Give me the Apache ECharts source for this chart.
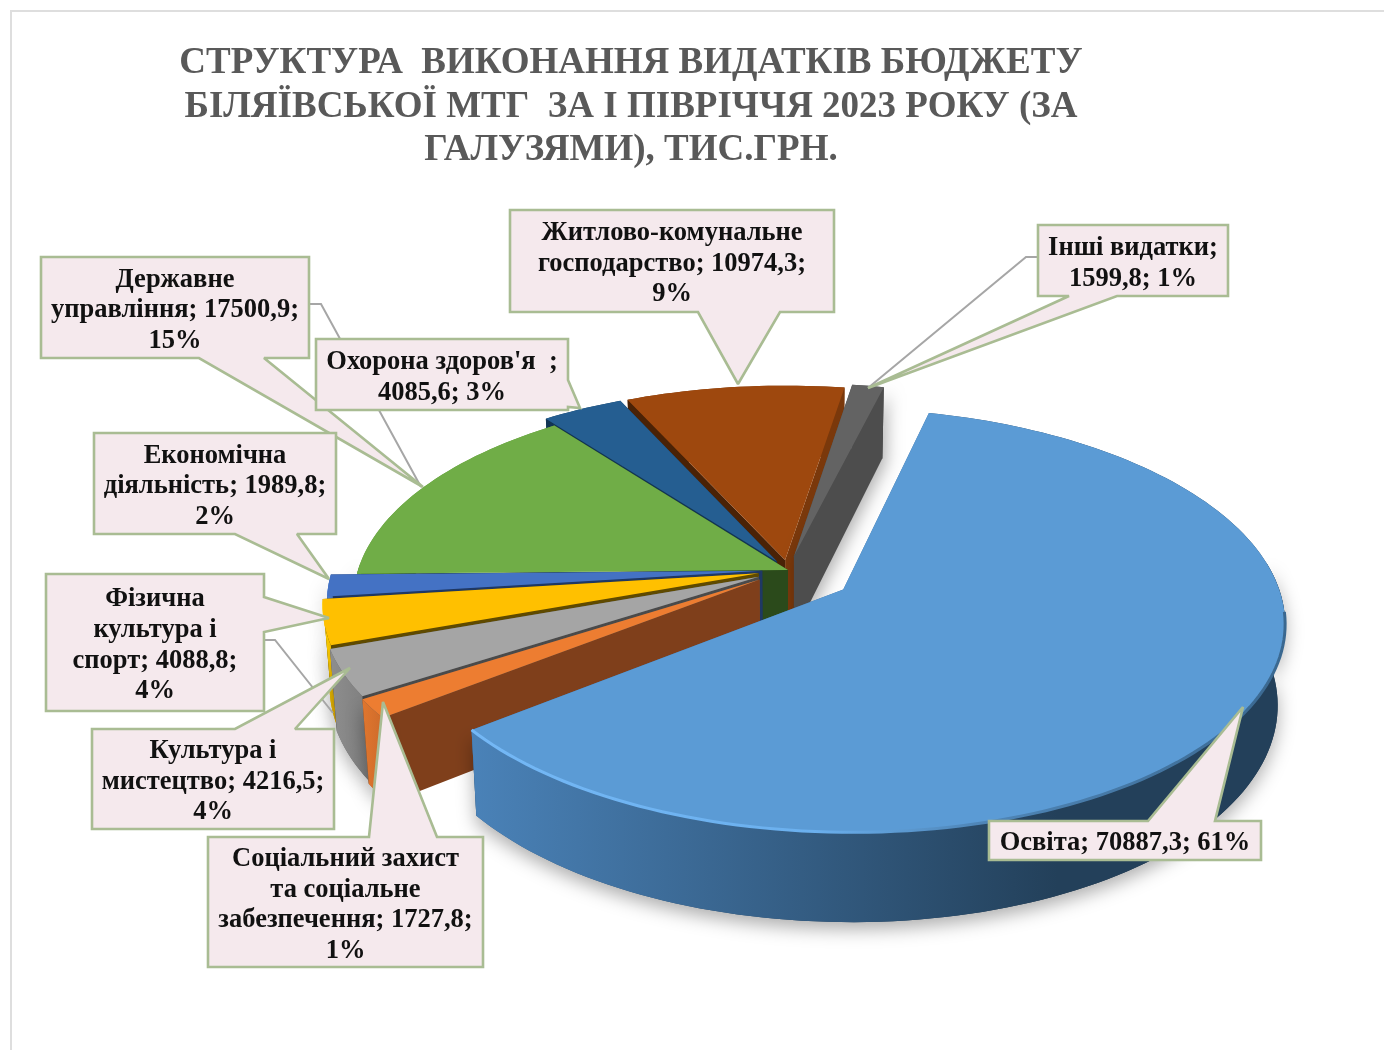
<!DOCTYPE html>
<html>
<head>
<meta charset="utf-8">
<title>Структура видатків</title>
<style>
  html, body { margin: 0; padding: 0; background: #fff; }
  #chart { width: 1384px; height: 1050px; }
</style>
<script src="https://cdn.jsdelivr.net/npm/echarts@6/dist/echarts.min.js"></script>
</head>
<body>
<div id="chart"></div>
<script>
// clockwise from the first slice, as in the source table
const categories = ['Освіта', 'Соціальний захист та соціальне забезпечення', 'Культура і мистецтво',
  'Фізична культура і спорт', 'Економічна діяльність', 'Державне управління', "Охорона здоров'я",
  'Житлово-комунальне господарство', 'Інші видатки']
const amounts = [70887.3, 1727.8, 4216.5, 4088.8, 1989.8, 17500.9, 4085.6, 10974.3, 1599.8]
const labelTexts = [
  'Освіта; 70887,3; 61%',
  'Соціальний захист\nта соціальне\nзабезпечення; 1727,8;\n1%',
  'Культура і\nмистецтво; 4216,5;\n4%',
  'Фізична\nкультура і\nспорт; 4088,8;\n4%',
  'Економічна\nдіяльність; 1989,8;\n2%',
  'Державне\nуправління; 17500,9;\n15%',
  "Охорона здоров'я  ;\n4085,6; 3%",
  'Житлово-комунальне\nгосподарство; 10974,3;\n9%',
  'Інші видатки;\n1599,8; 1%'
]
const titleText = 'СТРУКТУРА  ВИКОНАННЯ ВИДАТКІВ БЮДЖЕТУ\nБІЛЯЇВСЬКОЇ МТГ  ЗА І ПІВРІЧЧЯ 2023 РОКУ (ЗА\nГАЛУЗЯМИ), ТИС.ГРН.'

// slice colours: top face, outer wall (left, right), cut face at start, cut face at end
const sliceStyles = [
  { top: '#5B9BD5', wall: ['#4A82B8', '#23405A'], cutA: '#3F6E9C', cutB: '#3F6E9C' },
  { top: '#ED7D31', wall: ['#E0762E', '#C9682A'], cutA: '#7F3F1B', cutB: '#555555' },
  { top: '#A5A5A5', wall: ['#8E8E8E', '#7E7E7E'], cutA: '#4A4A4A', cutB: '#555555' },
  { top: '#FFC000', wall: ['#FFD400', '#E0A800'], cutA: '#5F4A00', cutB: '#5F4A00' },
  { top: '#4472C4', wall: ['#4A80D8', '#35599A'], cutA: '#1F3864', cutB: '#1F3864' },
  { top: '#70AD47', wall: ['#5F9A3A', '#5F9A3A'], cutA: '#2B4A1B', cutB: '#2B4A1B' },
  { top: '#255E91', wall: ['#17405F', '#17405F'], cutA: '#123554', cutB: '#123554' },
  { top: '#9E480E', wall: ['#7A380B', '#7A380B'], cutA: '#4A2206', cutB: '#7A380B' },
  { top: '#636363', wall: ['#4D4D4D', '#4D4D4D'], cutA: '#4D4D4D', cutB: '#4D4D4D' }
]
const explode = [0.175, 0.08, 0.075, 0.07, 0.06, 0, 0.05, 0.05, 0.07]
const blueShift = -0.02
const firstAngle = 14
// paint order, back to front
const sliceOrder = [7, 8, 6, 5, 4, 3, 2, 1, 0]
const calloutOrder = [0, 3, 2, 1, 5, 6, 4, 7, 8]

// 3d look of the pie
const cx = 788
const cy = 570
const radiusX = 430
const radiusY = 202
const persp = 0.143
const wallH = 79
const wallPersp = 0.11
const bottomShrink = 0.985

// callout geometry: box [x0, y0, x1, y1], wedge [base a, base b, tip], optional leader line
const callouts = [
  { box: [989, 821, 1261, 860], wedge: [[1148, 821], [1215, 821], [1243, 707]] },
  { box: [208, 837, 483, 967], wedge: [[369, 837], [437, 837], [383, 702]] },
  { box: [92, 729, 334, 829], wedge: [[235, 729], [295, 729], [350, 668]] },
  { box: [46, 574, 264, 711], wedge: [[264, 597], [264, 632], [329, 618]], leader: [[264, 640], [275, 640], [333, 713]] },
  { box: [94, 433, 336, 534], wedge: [[235, 534], [297, 534], [329, 579]] },
  { box: [41, 257, 309, 358], wedge: [[199, 358], [264, 358], [423, 487]], leader: [[309, 304], [321, 304], [421, 487]] },
  { box: [316, 339, 568, 410], wedge: [[568, 380], [568, 407], [580, 408]] },
  { box: [510, 210, 834, 312], wedge: [[698, 312], [780, 312], [738, 384]] },
  { box: [1038, 225, 1228, 296], wedge: [[1069, 296], [1117, 296], [868, 388]], leader: [[1038, 257], [1026, 257], [868, 388]] }
]

const total = amounts.reduce((a, b) => a + b, 0)
const startAngles = []
amounts.reduce((acc, v, i) => {
  startAngles[i] = firstAngle + (acc / total) * 360
  return acc + v
}, 0)

const rad = (d) => (d * Math.PI) / 180

// world point (X to the right, Z away from the viewer) to screen
function project(X, Z, bottom) {
  const d = 1 + persp * Z
  let x = (radiusX * X) / d
  let y = (-radiusY * Z) / d
  if (bottom) {
    x *= bottomShrink
    y += wallH / (1 + wallPersp * Z)
  }
  return [cx + x, cy + y]
}

function renderSlice(params, api) {
  const i = api.value(0)
  const sweep = (api.value(1) / total) * 360
  const a0 = startAngles[i]
  const a1 = a0 + sweep
  const mid = rad((a0 + a1) / 2)
  const ox = explode[i] * Math.sin(mid) + (i === 0 ? blueShift : 0)
  const oz = explode[i] * Math.cos(mid)
  const style = sliceStyles[i]

  const rim = []
  const steps = Math.max(2, Math.ceil(sweep / 1.5))
  for (let s = 0; s <= steps; s++) {
    const t = rad(a0 + ((a1 - a0) * s) / steps)
    rim.push([ox + Math.sin(t), oz + Math.cos(t)])
  }
  const topRim = rim.map((p) => project(p[0], p[1], false))
  const botRim = rim.map((p) => project(p[0], p[1], true))
  const apexTop = project(ox, oz, false)
  const apexBot = project(ox, oz, true)

  const xs = topRim.map((p) => p[0]).concat(botRim.map((p) => p[0]))
  const minX = Math.min.apply(null, xs)
  const maxX = Math.max.apply(null, xs)
  const wallFill = {
    type: 'linear', x: minX, y: 0, x2: i === 0 ? minX + (maxX - minX) * 0.72 : maxX, y2: 0, global: true,
    colorStops: [{ offset: 0, color: style.wall[0] }, { offset: 1, color: style.wall[1] }]
  }
  const wallShape = (from, to) => ({
    points: topRim.slice(from, to + 1).concat(botRim.slice(from, to + 1).reverse())
  })

  const children = []
  // back part of the outer wall, then cut faces far to near, then the part facing the viewer
  children.push({ type: 'polygon', shape: wallShape(0, steps), style: { fill: wallFill } })
  const cutStart = {
    type: 'polygon',
    shape: { points: [apexTop, topRim[0], botRim[0], apexBot] },
    style: { fill: style.cutA }
  }
  const cutEnd = {
    type: 'polygon',
    shape: { points: [apexTop, topRim[steps], botRim[steps], apexBot] },
    style: i === 8
      ? { fill: style.cutB, shadowBlur: 16, shadowColor: 'rgba(0,0,0,0.3)', shadowOffsetX: 4, shadowOffsetY: 4 }
      : { fill: style.cutB }
  }
  if (rim[0][1] > rim[steps][1]) {
    children.push(cutStart, cutEnd)
  } else {
    children.push(cutEnd, cutStart)
  }
  const nearIdx = rim.map((p, k) => (p[1] < 0.05 ? k : -1)).filter((k) => k >= 0)
  if (nearIdx.length > 1) {
    children.push({
      type: 'polygon',
      shape: wallShape(nearIdx[0], nearIdx[nearIdx.length - 1]),
      style: { fill: wallFill, shadowBlur: 18, shadowColor: 'rgba(0,0,0,0.32)', shadowOffsetX: 0, shadowOffsetY: 7 }
    })
  }
  children.push({
    type: 'polygon',
    shape: { points: [apexTop].concat(topRim) },
    style: { fill: style.top }
  })
  if (i === 0) {
    // soft bevel along the front edge of the big slice
    children.push({
      type: 'polyline',
      shape: { points: topRim.filter((p) => p[1] > 610) },
      style: {
        fill: 'none',
        lineWidth: 3,
        stroke: {
          type: 'linear', x: minX, y: 0, x2: maxX, y2: 0, global: true,
          colorStops: [
            { offset: 0, color: '#74B8F6' },
            { offset: 0.42, color: '#6BB0EE' },
            { offset: 0.62, color: '#4F86B8' },
            { offset: 1, color: '#3A6890' }
          ]
        }
      }
    })
  }
  return { type: 'group', children: children }
}

function renderCallout(params, api) {
  const i = api.value(0)
  const c = callouts[i]
  const b = c.box
  const children = []
  if (c.leader) {
    children.push({
      type: 'polyline',
      shape: { points: c.leader },
      style: { fill: 'none', stroke: '#A6A6A6', lineWidth: 2 }
    })
  }
  // walk the box outline and put the wedge in on whichever side it sits
  const [wa, wb, tip] = c.wedge
  let outline
  if (wa[1] === b[3] && wb[1] === b[3]) {
    outline = [[b[0], b[1]], [b[2], b[1]], [b[2], b[3]], wb, tip, wa, [b[0], b[3]]]
  } else if (wa[1] === b[1] && wb[1] === b[1]) {
    outline = [[b[0], b[1]], wa, tip, wb, [b[2], b[1]], [b[2], b[3]], [b[0], b[3]]]
  } else {
    outline = [[b[0], b[1]], [b[2], b[1]], wa, tip, wb, [b[2], b[3]], [b[0], b[3]]]
  }
  children.push({
    type: 'polygon',
    shape: { points: outline },
    style: { fill: '#F5E9ED', stroke: '#A9BC93', lineWidth: 2.6, lineJoin: 'miter', miterLimit: 2 }
  })
  children.push({
    type: 'text',
    style: {
      text: labelTexts[i],
      x: (b[0] + b[2]) / 2,
      y: (b[1] + b[3]) / 2 + 3,
      align: 'center',
      verticalAlign: 'middle',
      fill: '#111111',
      font: 'bold 26.5px "Liberation Serif"',
      lineHeight: 30.6
    }
  })
  return { type: 'group', children: children }
}

const chart = echarts.init(document.getElementById('chart'))
chart.setOption({
  animation: false,
  backgroundColor: '#ffffff',
  title: {
    text: titleText,
    left: 626,
    top: 37,
    textAlign: 'center',
    textStyle: {
      fontFamily: 'Liberation Serif',
      fontWeight: 'bold',
      fontSize: 37,
      lineHeight: 43.5,
      color: '#595959'
    }
  },
  graphic: [
    { type: 'rect', shape: { x: 10, y: 10, width: 1374, height: 2 }, style: { fill: '#DEDEDE' } },
    { type: 'rect', shape: { x: 10, y: 10, width: 2, height: 1040 }, style: { fill: '#DEDEDE' } }
  ],
  series: [
    {
      type: 'custom',
      name: 'Видатки',
      coordinateSystem: 'none',
      renderItem: renderSlice,
      data: sliceOrder.map((i) => [i, amounts[i], categories[i]]),
      silent: true,
      z: 2
    },
    {
      type: 'custom',
      name: 'Підписи',
      coordinateSystem: 'none',
      renderItem: renderCallout,
      data: calloutOrder.map((i) => [i, amounts[i]]),
      silent: true,
      z: 3
    }
  ]
})
</script>
</body>
</html>
